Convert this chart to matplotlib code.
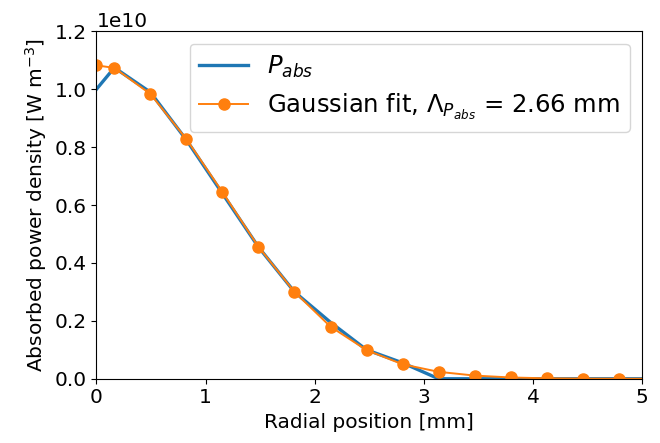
import numpy as np
import matplotlib.pyplot as plt

# radial positions of the cell centres [mm], with the axis point r = 0 in front
r_mm = [0.0, 0.165, 0.495, 0.825, 1.155, 1.485, 1.815, 2.145, 2.475, 2.805,
        3.135, 3.465, 3.795, 4.125, 4.455, 4.785, 5.0]

# absorbed power density [W m^-3]
p_abs = [1.00e10, 1.075e10, 0.99e10, 0.825e10, 0.64e10, 0.455e10, 0.30e10,
         0.195e10, 0.10e10, 0.055e10, 0.0, 0.0, 0.0, 0.0, 0.0, 0.0, 0.0]

# gaussian fit evaluated at the same positions
p_fit = [1.083e10, 1.074e10, 0.984e10, 0.828e10, 0.645e10, 0.456e10, 0.30e10,
         0.18e10, 0.099e10, 0.05e10, 0.024e10, 0.011e10, 0.0045e10, 0.0015e10,
         0.0005e10, 0.0001e10, 0.0e10]
fit_width = 2.66  # mm

fig = plt.figure(figsize=(6.6, 4.43), dpi=100)
ax = fig.add_axes([0.146, 0.145, 0.827, 0.784])

ax.plot(r_mm, p_abs, color='tab:blue', linewidth=2.4, label=r'$P_{abs}$')
ax.plot(r_mm, p_fit, color='tab:orange', linewidth=1.4, marker='o',
        markersize=8, markevery=slice(0, 16),
        label=r'Gaussian fit, $\Lambda_{P_{abs}}$ = %.2f mm' % fit_width)

ax.set_xlim(0, 5)
ax.set_ylim(0, 1.2e10)
ax.set_xticks([0, 1, 2, 3, 4, 5])
ax.set_yticks(np.arange(0, 1.21e10, 0.2e10))
ax.tick_params(labelsize=14.5)
ax.yaxis.get_offset_text().set_fontsize(14.5)

ax.set_xlabel('Radial position [mm]', fontsize=14.5)
ax.set_ylabel(r'Absorbed power density [W m$^{-3}$]', fontsize=14.5)

ax.legend(loc='upper right', fontsize=17.5)

fig.savefig('out.png', dpi=100)
